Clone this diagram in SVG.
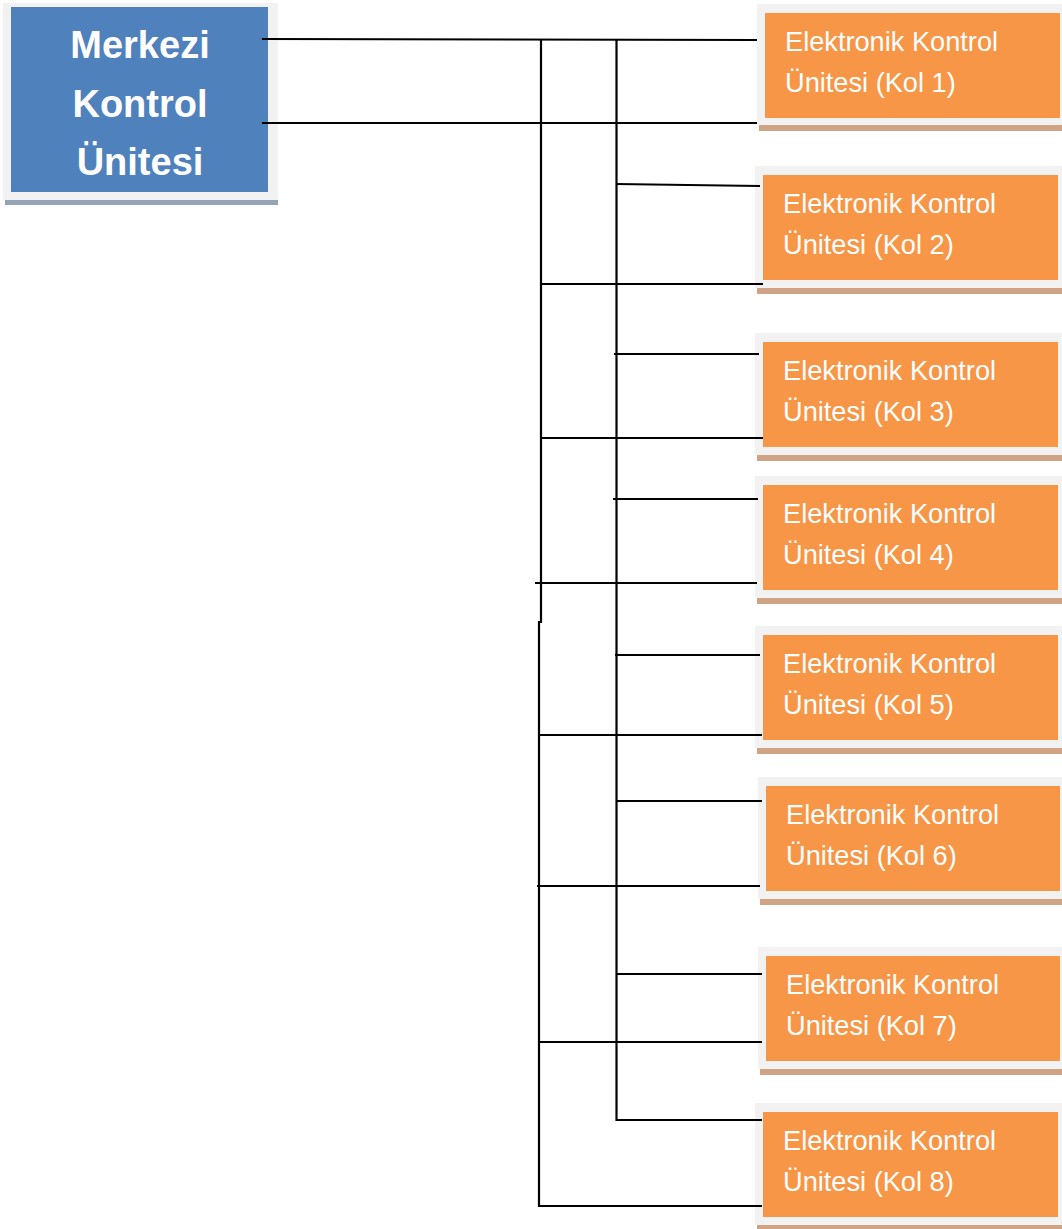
<svg xmlns="http://www.w3.org/2000/svg" width="1062" height="1229" viewBox="0 0 1062 1229">
  <style>
    .frame { fill: #F2F2F2; }
    .main { fill: #4F81BD; }
    .main-shadow { fill: #95A3B6; }
    .unit { fill: #F79646; }
    .unit-shadow { fill: #CFA383; }
    .main-text { font-family: "Liberation Sans", Arial, sans-serif; font-weight: bold; font-size: 38px; fill: #FFFFFF; text-anchor: middle; }
    .unit-text { font-family: "Liberation Sans", Arial, sans-serif; font-size: 27.2px; fill: #FFFFFF; }
    .wire { stroke: #000000; stroke-width: 2.2; fill: none; }
  </style>
  <rect width="1062" height="1229" fill="#FFFFFF"/>

  <!-- central controller -->
  <g id="merkezi">
    <rect class="main-shadow" x="5" y="199" width="273" height="6"/>
    <rect class="frame" x="3" y="3" width="275" height="197"/>
    <rect class="main" x="11" y="7" width="257" height="185"/>
    <text class="main-text" x="140" y="58">Merkezi</text>
    <text class="main-text" x="140" y="117">Kontrol</text>
    <text class="main-text" x="140" y="175">Ünitesi</text>
  </g>

  <!-- column units -->
  <g id="kol1">
    <rect class="unit-shadow" x="759" y="125" width="303" height="6"/>
    <rect class="frame" x="757" y="4" width="305" height="121"/>
    <rect class="unit" x="765" y="13" width="295" height="105"/>
    <text class="unit-text" x="785" y="51">Elektronik Kontrol</text>
    <text class="unit-text" x="785" y="92">Ünitesi (Kol 1)</text>
  </g>
  <g id="kol2">
    <rect class="unit-shadow" x="757" y="288" width="305" height="6"/>
    <rect class="frame" x="755" y="166" width="307" height="122"/>
    <rect class="unit" x="763" y="175" width="295" height="105"/>
    <text class="unit-text" x="783" y="213">Elektronik Kontrol</text>
    <text class="unit-text" x="783" y="254">Ünitesi (Kol 2)</text>
  </g>
  <g id="kol3">
    <rect class="unit-shadow" x="757" y="455" width="305" height="6"/>
    <rect class="frame" x="755" y="333" width="307" height="122"/>
    <rect class="unit" x="763" y="342" width="295" height="105"/>
    <text class="unit-text" x="783" y="380">Elektronik Kontrol</text>
    <text class="unit-text" x="783" y="421">Ünitesi (Kol 3)</text>
  </g>
  <g id="kol4">
    <rect class="unit-shadow" x="757" y="598" width="305" height="6"/>
    <rect class="frame" x="755" y="476" width="307" height="122"/>
    <rect class="unit" x="763" y="485" width="295" height="105"/>
    <text class="unit-text" x="783" y="523">Elektronik Kontrol</text>
    <text class="unit-text" x="783" y="564">Ünitesi (Kol 4)</text>
  </g>
  <g id="kol5">
    <rect class="unit-shadow" x="757" y="748" width="305" height="6"/>
    <rect class="frame" x="755" y="626" width="307" height="122"/>
    <rect class="unit" x="763" y="635" width="295" height="105"/>
    <text class="unit-text" x="783" y="673">Elektronik Kontrol</text>
    <text class="unit-text" x="783" y="714">Ünitesi (Kol 5)</text>
  </g>
  <g id="kol6">
    <rect class="unit-shadow" x="760" y="899" width="302" height="6"/>
    <rect class="frame" x="758" y="777" width="304" height="122"/>
    <rect class="unit" x="766" y="786" width="294" height="105"/>
    <text class="unit-text" x="786" y="824">Elektronik Kontrol</text>
    <text class="unit-text" x="786" y="865">Ünitesi (Kol 6)</text>
  </g>
  <g id="kol7">
    <rect class="unit-shadow" x="760" y="1069" width="302" height="6"/>
    <rect class="frame" x="758" y="947" width="304" height="122"/>
    <rect class="unit" x="766" y="956" width="294" height="105"/>
    <text class="unit-text" x="786" y="994">Elektronik Kontrol</text>
    <text class="unit-text" x="786" y="1035">Ünitesi (Kol 7)</text>
  </g>
  <g id="kol8">
    <rect class="unit-shadow" x="757" y="1225" width="305" height="6"/>
    <rect class="frame" x="755" y="1103" width="307" height="122"/>
    <rect class="unit" x="763" y="1112" width="295" height="105"/>
    <text class="unit-text" x="783" y="1150">Elektronik Kontrol</text>
    <text class="unit-text" x="783" y="1191">Ünitesi (Kol 8)</text>
  </g>

  <!-- wiring -->
  <g id="connectors" class="wire">
    <!-- trunk lines from the central controller -->
    <line x1="262" y1="39" x2="757" y2="40"/>
    <line x1="262" y1="123" x2="757" y2="123"/>
    <!-- bus A -->
    <polyline points="541,39 541,622 539,622 539,1206 762,1206"/>
    <!-- bus B -->
    <polyline points="616.5,39 616.5,1120 762,1120"/>
    <!-- branches to the units -->
    <line x1="616" y1="184" x2="760" y2="186"/>
    <line x1="541" y1="284" x2="763" y2="284"/>
    <line x1="614" y1="354" x2="759" y2="354"/>
    <line x1="541" y1="438" x2="763" y2="438"/>
    <line x1="613" y1="499" x2="758" y2="499"/>
    <line x1="535" y1="583" x2="757" y2="583"/>
    <line x1="615" y1="655" x2="760" y2="655"/>
    <line x1="539" y1="735" x2="762" y2="735"/>
    <line x1="616" y1="801" x2="762" y2="801"/>
    <line x1="537" y1="886" x2="760" y2="886"/>
    <line x1="616" y1="974" x2="762" y2="974"/>
    <line x1="539" y1="1042" x2="762" y2="1042"/>
  </g>
</svg>
